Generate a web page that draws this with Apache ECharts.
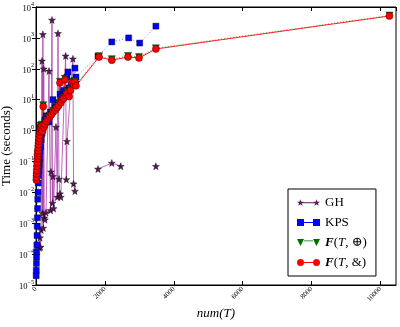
<!DOCTYPE html>
<html>
<head>
<meta charset="utf-8">
<script src="https://cdn.jsdelivr.net/npm/echarts@6/dist/echarts.min.js"></script>
<style>
html, body { margin: 0; padding: 0; background: #fff; }
#chart { width: 400px; height: 327px; }
</style>
</head>
<body>
<div id="chart"></div>
<script>
// num(T) and running times (seconds)
const ghX = [100, 116, 130, 150, 174, 185, 200, 210, 225, 240, 260, 290, 377, 420, 435, 464, 480, 493, 510, 580,
  620, 638, 667, 696, 720, 860, 880, 899, 1072, 1090, 1130, 1500, 1800, 2200, 2460, 3000, 3480]
const ghY = [1.6e-4, 3.4e-4, 1.7e-4, 6e-4, 180, 0.0021, 1300, 7e-4, 100, 0.0015, 0.0013, 0.0022, 85, 0.0026, 0.046, 3800, 0.0045, 0.033, 0.003, 1.3,
  0.007, 1400, 0.027, 0.009, 0.007, 260, 0.026, 0.45, 210, 0.019, 0.011, null, 0.057, 0.089, 0.07, null, 0.07]

const kpsX = [5, 8, 12, 16, 20, 25, 30, 35, 40, 45, 50, 58, 66, 75, 85, 95, 105, 115, 130, 150,
  175, 200, 230, 260, 300, 377, 420, 493, 550, 620, 700, 800, 899, 928, 957, 1020, 1101, 1130, 1159,
  1800, 2200, 2690, 3010, 3480]
const kpsY = [2e-5, 3e-5, 5e-5, 8e-5, 1.2e-4, 2e-4, 4e-4, 8e-4, 0.0015, 0.003, 0.006, 0.01, 0.02, 0.035, 0.05, 0.08, 0.12, 0.2, 0.3, 0.5,
  0.8, 1.2, 1.5, 2.2, 3, 1.9, 4, 10, 6, 8, 15, 20, 54, 79, 24, 30, 37, 105, 54,
  257, 740, 1000, 680, 2400]

const fX = [10, 15, 20, 25, 30, 35, 40, 45, 52, 60, 68, 76, 85, 95, 105, 115, 125, 135, 150, 170,
  190, 210, 232, 260, 300, 350, 400, 450, 500, 560, 610, 660, 695, 720, 760, 800, 840, 870, 900, 960,
  1000, 1050, 1100, 1130, 1160, 1830, 2200, 2670, 2990, 3480, 10260]
const fxorY = [0.028, 0.034, 0.045, 0.056, 0.078, 0.1, 0.13, 0.17, 0.2, 0.25, 0.31, 0.39, 0.5, 0.62, 0.78, 1.0, 1.2, 1.45, 1.35, 1.55,
  1.05, 6.6, 1.45, 1.8, 2.2, 2.7, 3.1, 3.6, 4.4, 5.1, 6.1, 7.2, 38, 8.8, 11, 12, 48, 15, 18, 14,
  22, 38, 33, 40, 31, 255, 205, 260, 240, 460, 5300]
const fandY = [0.025, 0.03, 0.04, 0.05, 0.07, 0.09, 0.12, 0.15, 0.18, 0.22, 0.28, 0.35, 0.45, 0.55, 0.7, 0.9, 1.1, 1.3, 1.2, 1.4,
  0.95, 6.0, 1.3, 1.6, 2.0, 2.4, 2.8, 3.3, 4.0, 4.6, 5.5, 6.5, 35, 8, 10, 11, 44, 14, 16, 12.6,
  20, 35, 30, 37, 28, 240, 190, 240, 224, 437, 5130]

const serif = "'Liberation Serif', 'DejaVu Serif', serif"
const star = 'path://M7,0 L8.65,4.74 L13.66,4.84 L9.66,7.87 L11.11,12.66 L7,9.8 L2.89,12.66 L4.34,7.87 L0.34,4.84 L5.35,4.74 Z'

// legend icons: marker at both ends joined by a line
const iconStar = 'path://M7,0 L8.65,4.74 L13.66,4.84 L9.66,7.87 L11.11,12.66 L7,9.8 L2.89,12.66 L4.34,7.87 L0.34,4.84 L5.35,4.74 Z ' +
  'M39,0 L40.65,4.74 L45.66,4.84 L41.66,7.87 L43.11,12.66 L39,9.8 L34.89,12.66 L36.34,7.87 L32.34,4.84 L37.35,4.74 Z M10,6 H36 V8 H10 Z'
const iconRect = 'path://M0,0 H14 V14 H0 Z M32,0 H46 V14 H32 Z M14,6 H32 V8 H14 Z'
const iconTri = 'path://M0,0 H14 L7,14 Z M32,0 H46 L39,14 Z M14,3 H32 V4.5 H14 Z'
const iconCirc = 'path://M0,7 A7,7 0 1,1 14,7 A7,7 0 1,1 0,7 Z M32,7 A7,7 0 1,1 46,7 A7,7 0 1,1 32,7 Z M14,6 H32 V8 H14 Z'

function pairs (xs, ys) {
  return xs.map((x, i) => [x, ys[i] == null ? '-' : ys[i]])
}

const chart = echarts.init(document.getElementById('chart'), null, { renderer: 'canvas' })

const xRange = { min: 0, max: 10450, interval: 2000 }
const yRange = { min: 1e-5, max: 1e4, logBase: 10 }

chart.setOption({
  animation: false,
  backgroundColor: '#fff',
  grid: {
    left: 36, top: 7, right: 4, bottom: 42,
    outerBoundsMode: 'none',
    containLabel: false,
    show: true, borderColor: '#000', borderWidth: 1
  },
  xAxis: [
    {
      type: 'value', ...xRange,
      name: 'num(T)',
      nameLocation: 'middle',
      nameGap: 22,
      nameMoveOverlap: false,
      nameTextStyle: { fontFamily: serif, fontSize: 13, fontStyle: 'italic', color: '#000' },
      axisLine: { show: true, lineStyle: { color: '#000' } },
      axisTick: { inside: true, length: 4, lineStyle: { color: '#000' } },
      splitLine: { show: false },
      axisLabel: {
        rotate: 45, fontSize: 7, fontFamily: serif, color: '#000', margin: 3,
        showMaxLabel: false, formatter: v => String(v)
      }
    },
    {
      type: 'value', ...xRange, position: 'top',
      axisLine: { show: true, lineStyle: { color: '#000' } },
      axisTick: { inside: true, length: 4, lineStyle: { color: '#000' } },
      splitLine: { show: false },
      axisLabel: { show: false }
    }
  ],
  yAxis: [
    {
      type: 'log', ...yRange,
      name: 'Time (seconds)',
      nameLocation: 'middle',
      nameGap: 23,
      nameMoveOverlap: false,
      nameTextStyle: { fontFamily: serif, fontSize: 13, color: '#000' },
      axisLine: { show: true, lineStyle: { color: '#000' } },
      axisTick: { inside: true, length: 4, lineStyle: { color: '#000' } },
      splitLine: { show: false },
      axisLabel: {
        margin: 2,
        formatter: v => {
          const e = Math.round(Math.log10(v))
          return '{b|10}{e|' + (e < 0 ? '\u2212' + (-e) : e) + '}'
        },
        rich: {
          b: { fontFamily: serif, fontSize: 8.5, color: '#000', verticalAlign: 'bottom', lineHeight: 12 },
          e: { fontFamily: serif, fontSize: 6, color: '#000', verticalAlign: 'top', lineHeight: 12 }
        }
      }
    },
    {
      type: 'log', ...yRange, position: 'right',
      axisLine: { show: true, lineStyle: { color: '#000' } },
      axisTick: { inside: true, length: 4, lineStyle: { color: '#000' } },
      splitLine: { show: false },
      axisLabel: { show: false }
    }
  ],
  legend: {
    orient: 'vertical',
    left: 288,
    top: 189,
    padding: [7, 9, 7, 9],
    itemGap: 7,
    itemWidth: 23,
    itemHeight: 7,
    itemTextGap: 15,
    borderColor: '#000',
    borderWidth: 1,
    backgroundColor: '#fff',
    itemStyle: { borderWidth: 0 },
    data: [
      { name: 'GH', icon: iconStar },
      { name: 'KPS', icon: iconRect },
      { name: 'F(T,⊕)', icon: iconTri },
      { name: 'F(T,&)', icon: iconCirc }
    ],
    formatter: name => {
      if (name === 'F(T,⊕)') return '{bi|F}{n|(}{it|T}{n|, ⊕)}'
      if (name === 'F(T,&)') return '{bi|F}{n|(}{it|T}{n|, &)}'
      return '{n|' + name + '}'
    },
    textStyle: {
      fontFamily: serif,
      fontSize: 13,
      color: '#000',
      rich: {
        n: { fontFamily: serif, fontSize: 13, color: '#000' },
        it: { fontFamily: serif, fontSize: 13, fontStyle: 'italic', color: '#000' },
        bi: { fontFamily: serif, fontSize: 13, fontStyle: 'italic', fontWeight: 'bold', color: '#000' }
      }
    }
  },
  series: [
    {
      name: 'GH',
      type: 'line',
      data: pairs(ghX, ghY),
      symbol: star,
      symbolSize: 7,
      showAllSymbol: true,
      connectNulls: false,
      lineStyle: { color: '#a53aa5', width: 1, opacity: 0.75 },
      itemStyle: { color: '#5a155c', borderColor: '#000', borderWidth: 0.4 },
      emphasis: { disabled: true }
    },
    {
      name: 'KPS',
      type: 'line',
      data: pairs(kpsX, kpsY),
      symbol: 'rect',
      symbolSize: 6,
      showAllSymbol: true,
      lineStyle: { color: '#8080ff', width: 1, type: [1, 2] },
      itemStyle: { color: '#0000ff', borderColor: '#000', borderWidth: 0.4 },
      emphasis: { disabled: true }
    },
    {
      name: 'F(T,⊕)',
      type: 'line',
      data: pairs(fX, fxorY),
      symbol: 'triangle',
      symbolRotate: 180,
      symbolSize: 7,
      showAllSymbol: true,
      lineStyle: { color: '#33a033', width: 1, type: [1, 2] },
      itemStyle: { color: '#007000', borderColor: '#000', borderWidth: 0.4 },
      emphasis: { disabled: true }
    },
    {
      name: 'F(T,&)',
      type: 'line',
      data: pairs(fX, fandY),
      symbol: 'circle',
      symbolSize: 7,
      showAllSymbol: true,
      lineStyle: { color: '#ff2020', width: 1 },
      itemStyle: { color: '#ff0000', borderColor: '#400000', borderWidth: 0.5 },
      emphasis: { disabled: true }
    }
  ]
})
</script>
</body>
</html>
